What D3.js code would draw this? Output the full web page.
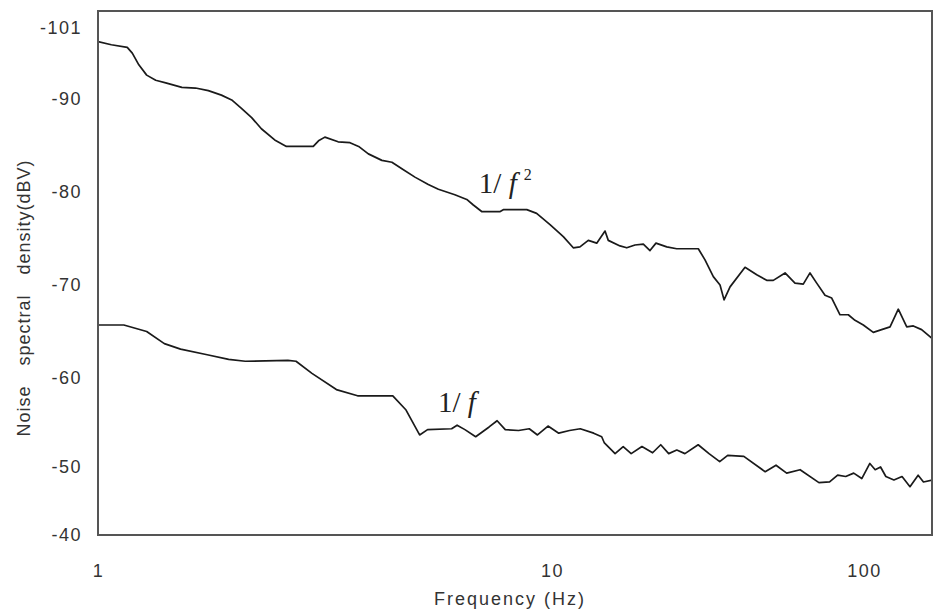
<!DOCTYPE html>
<html>
<head>
<meta charset="utf-8">
<title>Noise spectral density</title>
<script src="https://cdn.jsdelivr.net/npm/d3@7"></script>
<style>
  body { margin: 0; background: #fff; }
  .tick text { font-family: "Liberation Sans", Arial, sans-serif; font-size: 18px; fill: #333; letter-spacing: 1.5px; }
  .axis-title { font-family: "Liberation Sans", Arial, sans-serif; font-size: 18px; fill: #333; }
  .note { font-family: "Liberation Serif", "Times New Roman", serif; font-size: 29px; fill: #222; }
</style>
</head>
<body>
<script>
// frequency (Hz), noise spectral density (dBV)
const freqTicks = [1, 10, 100];
const dbvTicks = [-101, -90, -80, -70, -60, -50, -40];

const upperFreq = [1.00,1.07,1.16,1.19,1.23,1.28,1.34,1.41,1.53,1.64,1.75,1.87,1.97,2.07,2.18,2.29,2.45,2.60,2.98,3.06,3.16,3.38,3.59,3.75,3.94,4.22,4.44,4.67,4.99,5.34,5.62,6.11,6.49,6.71,7.00,7.69,7.81,8.80,9.25,9.90,10.87,11.70,12.29,13.07,13.91,14.79,15.15,16.52,17.36,18.45,19.62,20.61,21.54,23.32,25.10,29.44,30.93,32.89,34.56,35.60,37.21,41.56,45.31,48.76,51.20,55.84,60.09,63.88,67.13,70.54,74.99,78.79,83.78,89.06,93.58,99.49,107.1,113.9,121.2,128.8,137.1,143.9,153.0,164.8];
const upperDbv = [-98.9,-98.4,-98.0,-97.1,-95.3,-93.7,-92.9,-92.5,-91.8,-91.7,-91.3,-90.6,-89.9,-89.0,-88.0,-86.8,-85.6,-84.9,-84.9,-85.5,-85.9,-85.4,-85.3,-84.9,-84.1,-83.4,-83.2,-82.5,-81.6,-80.8,-80.3,-79.7,-79.2,-78.6,-77.9,-77.9,-78.1,-78.1,-77.7,-76.5,-75.2,-74.0,-74.1,-74.8,-74.5,-75.8,-74.8,-74.2,-74.0,-74.3,-74.4,-73.7,-74.5,-74.1,-73.9,-73.9,-72.7,-70.9,-70.0,-68.4,-69.8,-71.9,-71.1,-70.5,-70.5,-71.3,-70.2,-70.1,-71.3,-70.2,-68.9,-68.6,-66.8,-66.8,-66.2,-65.7,-64.9,-65.2,-65.5,-67.4,-65.5,-65.6,-65.2,-64.3];

const lowerFreq = [1.00,1.14,1.28,1.40,1.52,1.74,1.94,2.11,2.62,2.73,2.96,3.35,3.73,4.46,4.77,5.11,5.32,6.01,6.18,6.43,6.79,7.27,7.57,7.89,8.44,8.91,9.29,9.80,10.51,11.38,12.32,13.60,14.43,14.72,15.93,16.91,17.94,19.42,21.01,22.31,23.66,25.12,26.67,29.41,31.86,34.48,36.57,41.19,48.23,52.24,56.51,62.41,71.71,77.57,82.33,87.37,92.68,98.38,104.4,108.6,113.0,117.5,124.7,132.4,140.4,149.1,155.1,166.0];
const lowerDbv = [-65.7,-65.7,-65.0,-63.7,-63.1,-62.5,-62.0,-61.8,-61.9,-61.8,-60.5,-58.7,-58.0,-58.0,-56.4,-53.6,-54.2,-54.3,-54.7,-54.2,-53.4,-54.5,-55.2,-54.2,-54.1,-54.3,-53.6,-54.6,-53.8,-54.1,-54.3,-53.8,-53.4,-52.7,-51.5,-52.3,-51.5,-52.3,-51.6,-52.5,-51.5,-51.9,-51.5,-52.5,-51.5,-50.6,-51.3,-51.2,-49.3,-50.2,-49.1,-49.6,-47.7,-47.8,-48.8,-48.6,-49.1,-48.3,-50.4,-49.6,-50.0,-48.6,-48.1,-48.6,-47.1,-48.8,-47.8,-48.1];

// slope labels
const noteFreq = [6.9, 5.61];
const noteDbv = [-79.9, -56.2];
const noteExp = ["2", ""];

const W = 936, H = 611;
const plotL = 98, plotR = 932, plotT = 11, plotB = 535;

const svg = d3.select("body").append("svg")
  .attr("width", W)
  .attr("height", H);

// the printed axis is not evenly spaced, so both scales are piecewise
const x = d3.scaleLog().domain(freqTicks).range([98, 552, 864]);
const y = d3.scaleLinear().domain(dbvTicks).range([28, 99, 192, 285, 378, 467, 535]);

svg.append("clipPath").attr("id", "plot")
  .append("rect")
  .attr("x", plotL).attr("y", plotT)
  .attr("width", plotR - plotL).attr("height", plotB - plotT);

const line = d3.line()
  .x(d => x(d[0]))
  .y(d => y(d[1]));

const series = [
  d3.zip(upperFreq, upperDbv),
  d3.zip(lowerFreq, lowerDbv)
];

svg.append("g")
  .attr("clip-path", "url(#plot)")
  .selectAll("path")
  .data(series)
  .join("path")
  .attr("d", line)
  .attr("fill", "none")
  .attr("stroke", "#1a1a1a")
  .attr("stroke-width", 1.7)
  .attr("stroke-linejoin", "round");

// frame
svg.append("rect")
  .attr("x", plotL).attr("y", plotT)
  .attr("width", plotR - plotL).attr("height", plotB - plotT)
  .attr("fill", "none")
  .attr("stroke", "#555")
  .attr("stroke-width", 2);

svg.append("g")
  .attr("transform", `translate(0,${plotB})`)
  .call(d3.axisBottom(x).tickValues(freqTicks).tickFormat(d => String(d)).tickSize(0).tickPadding(29))
  .call(g => g.select(".domain").remove())
  .call(g => g.selectAll("text").attr("font-family", null).attr("font-size", null));

svg.append("g")
  .attr("transform", `translate(${plotL - 16},0)`)
  .call(d3.axisLeft(y).tickValues(dbvTicks).tickFormat(d => String(d)).tickSize(0).tickPadding(0))
  .call(g => g.select(".domain").remove())
  .call(g => g.selectAll("text").attr("font-family", null).attr("font-size", null));

svg.append("text")
  .attr("class", "axis-title")
  .attr("x", 510).attr("y", 605)
  .attr("text-anchor", "middle")
  .style("letter-spacing", "2px")
  .text("Frequency (Hz)");

svg.append("text")
  .attr("class", "axis-title")
  .attr("transform", "translate(30,298) rotate(-90)")
  .attr("text-anchor", "middle")
  .style("word-spacing", "14px")
  .style("letter-spacing", "1px")
  .text("Noise spectral density(dBV)");

const notes = svg.selectAll(".note")
  .data(d3.range(noteFreq.length))
  .join("text")
  .attr("class", "note")
  .attr("x", i => x(noteFreq[i]))
  .attr("y", i => y(noteDbv[i]));
notes.append("tspan").text("1/ ");
notes.append("tspan").style("font-style", "italic").text("f");
notes.append("tspan")
  .attr("dy", -13)
  .attr("dx", 7)
  .style("font-size", "16px")
  .text(i => noteExp[i]);
</script>
</body>
</html>
